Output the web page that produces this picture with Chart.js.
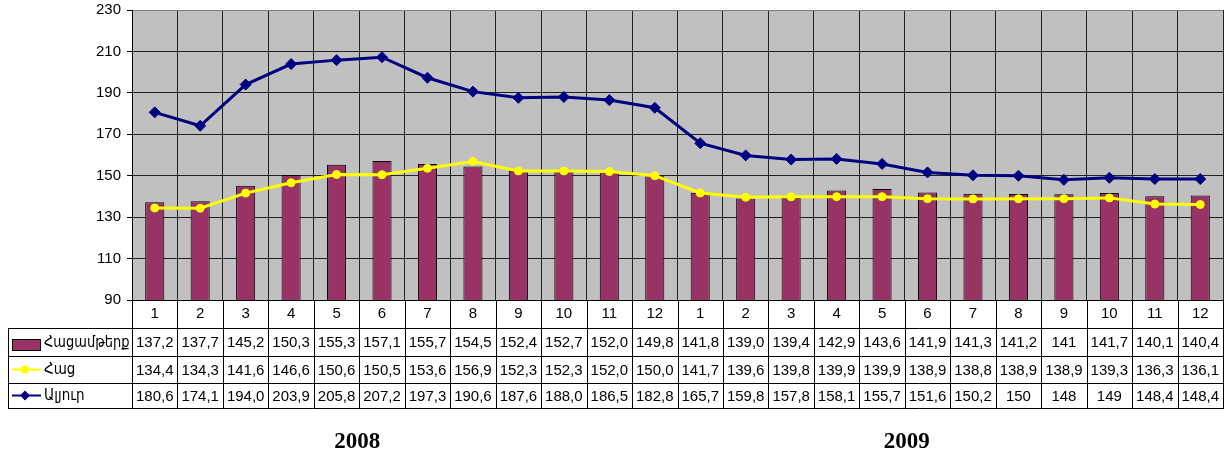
<!DOCTYPE html>
<html>
<head>
<meta charset="utf-8">
<script src="https://cdn.jsdelivr.net/npm/chart.js@4"></script>
<style>
    html, body { margin: 0; padding: 0; background: #fff; }
    canvas { display: block; }
</style>
</head>
<body>
<canvas id="myChart" width="1230" height="454"></canvas>
<script>
// 월 라벨 (2008, 2009)
const months = ['1','2','3','4','5','6','7','8','9','10','11','12',
                '1','2','3','4','5','6','7','8','9','10','11','12'];
const years = ['2008', '2009'];
const seriesNames = ['Հացամթերք', 'Հաց', 'Ալյուր'];

// 표에 찍힌 그대로의 값
const breadProducts = ['137,2','137,7','145,2','150,3','155,3','157,1','155,7','154,5','152,4','152,7','152,0','149,8',
                       '141,8','139,0','139,4','142,9','143,6','141,9','141,3','141,2','141','141,7','140,1','140,4'];
const bread = ['134,4','134,3','141,6','146,6','150,6','150,5','153,6','156,9','152,3','152,3','152,0','150,0',
               '141,7','139,6','139,8','139,9','139,9','138,9','138,8','138,9','138,9','139,3','136,3','136,1'];
const flour = ['180,6','174,1','194,0','203,9','205,8','207,2','197,3','190,6','187,6','188,0','186,5','182,8',
               '165,7','159,8','157,8','158,1','155,7','151,6','150,2','150','148','149','148,4','148,4'];

const yMin = 90, yMax = 230, yStep = 20;

const toNum = arr => arr.map(v => parseFloat(v.replace(',', '.')));

const FONT = '"Liberation Sans", Arial, "DejaVu Sans Condensed", sans-serif';
const ARM_FONT = '"DejaVu Sans Condensed", "DejaVu Sans", sans-serif';

// 표 행 위치
const rowY = [300, 328, 356, 383, 408];

const tablePlugin = {
    id: 'dataTable',
    beforeDraw(chart) {
        const { ctx, chartArea: a } = chart;
        ctx.save();
        ctx.fillStyle = '#c0c0c0';
        ctx.fillRect(a.left, a.top, a.right - a.left, a.bottom - a.top);
        ctx.restore();
    },
    afterDraw(chart) {
        const { ctx } = chart;
        const x = chart.scales.x;
        const half = (x.getPixelForValue(1) - x.getPixelForValue(0)) / 2;
        const bounds = [];
        for (let i = 0; i <= months.length; i++) {
            bounds.push(Math.round(x.getPixelForValue(0) - half + i * half * 2) + 0.5);
        }
        const left = 8.5;
        const right = bounds[bounds.length - 1];

        ctx.save();
        ctx.strokeStyle = '#000';
        ctx.lineWidth = 1;
        ctx.beginPath();
        for (let r = 1; r < rowY.length; r++) {
            ctx.moveTo(left, rowY[r] + 0.5);
            ctx.lineTo(right, rowY[r] + 0.5);
        }
        ctx.moveTo(left, rowY[1]);
        ctx.lineTo(left, rowY[4] + 1);
        bounds.forEach(b => {
            ctx.moveTo(b, rowY[0]);
            ctx.lineTo(b, rowY[4] + 1);
        });
        ctx.stroke();

        // 값
        ctx.fillStyle = '#000';
        ctx.font = '15px ' + FONT;
        ctx.textAlign = 'center';
        ctx.textBaseline = 'middle';
        [breadProducts, bread, flour].forEach((arr, r) => {
            const cy = (rowY[r + 1] + rowY[r + 2]) / 2 + 1;
            arr.forEach((v, i) => ctx.fillText(v, x.getPixelForValue(i), cy));
        });

        // 범례 키
        ctx.textAlign = 'left';
        ctx.font = '15px ' + ARM_FONT;
        seriesNames.forEach((name, r) => {
            const cy = (rowY[r + 1] + rowY[r + 2]) / 2;
            ctx.fillStyle = '#000';
            ctx.fillText(name, 44, cy + 1, bounds[0] - 47);
        });
        ctx.fillStyle = '#993366';
        ctx.fillRect(12, 339, 28, 11);
        ctx.strokeStyle = '#000';
        ctx.strokeRect(12.5, 339.5, 28, 11);

        let cy = (rowY[2] + rowY[3]) / 2;
        ctx.strokeStyle = '#ffff00';
        ctx.lineWidth = 2;
        ctx.beginPath(); ctx.moveTo(12, cy); ctx.lineTo(41, cy); ctx.stroke();
        ctx.fillStyle = '#ffff00';
        ctx.beginPath(); ctx.arc(25, cy, 4, 0, Math.PI * 2); ctx.fill();

        cy = (rowY[3] + rowY[4]) / 2;
        ctx.strokeStyle = '#000080';
        ctx.beginPath(); ctx.moveTo(12, cy); ctx.lineTo(41, cy); ctx.stroke();
        ctx.fillStyle = '#000080';
        ctx.beginPath();
        ctx.moveTo(25, cy - 5); ctx.lineTo(30, cy); ctx.lineTo(25, cy + 5); ctx.lineTo(20, cy);
        ctx.closePath(); ctx.fill();

        // 연도
        ctx.font = 'bold 23px "Liberation Serif", "Times New Roman", serif';
        ctx.textAlign = 'center';
        ctx.textBaseline = 'alphabetic';
        ctx.fillStyle = '#000';
        ctx.fillText(years[0], (x.getPixelForValue(4) + x.getPixelForValue(5)) / 2 - 2, 448);
        ctx.fillText(years[1], (x.getPixelForValue(16) + x.getPixelForValue(17)) / 2 + 2, 448);
        ctx.restore();
    }
};

let myChart = null;

function initChart() {
    const ctx = document.getElementById('myChart').getContext('2d');
    myChart = new Chart(ctx, {
        type: 'bar',
        data: {
            labels: months,
            datasets: [
                {
                    label: seriesNames[0],
                    data: toNum(breadProducts),
                    backgroundColor: '#993366',
                    borderColor: '#000',
                    borderWidth: 1,
                    barPercentage: 0.42,
                    categoryPercentage: 1,
                    order: 3
                },
                {
                    type: 'line',
                    label: seriesNames[1],
                    data: toNum(bread),
                    borderColor: '#ffff00',
                    backgroundColor: '#ffff00',
                    borderWidth: 3,
                    pointRadius: 4,
                    pointBackgroundColor: '#ffff00',
                    pointBorderColor: '#ffff00',
                    pointBorderWidth: 1,
                    tension: 0,
                    order: 2
                },
                {
                    type: 'line',
                    label: seriesNames[2],
                    data: toNum(flour),
                    borderColor: '#000080',
                    backgroundColor: '#000080',
                    borderWidth: 3,
                    pointStyle: 'rectRot',
                    pointRadius: 5.5,
                    pointBackgroundColor: '#000080',
                    pointBorderColor: '#000080',
                    pointBorderWidth: 1,
                    tension: 0,
                    order: 1
                }
            ]
        },
        options: {
            responsive: false,
            animation: false,
            layout: { padding: { top: 10, right: 7, left: 0, bottom: 0 } },
            scales: {
                x: {
                    offset: true,
                    grid: {
                        offset: true,
                        drawTicks: false,
                        color: ctx => ctx.index === months.length ? '#808080' : '#222',
                        lineWidth: 1
                    },
                    border: { color: '#000', width: 1 },
                    ticks: {
                        color: '#000',
                        font: { size: 15, family: FONT },
                        padding: 5,
                        maxRotation: 0,
                        autoSkip: false
                    },
                    afterFit: s => { s.height = 154; s.paddingLeft = 0; s.paddingRight = 0; }
                },
                y: {
                    min: yMin,
                    max: yMax,
                    grid: {
                        color: ctx => ctx.tick && ctx.tick.value === yMax ? '#808080' : '#222',
                        lineWidth: 1,
                        tickLength: 5,
                        tickColor: '#000'
                    },
                    border: { color: '#000', width: 1 },
                    ticks: {
                        stepSize: yStep,
                        color: '#000',
                        font: { size: 15, family: FONT },
                        padding: 6
                    },
                    afterFit: s => { s.width = 132; s.paddingTop = 0; s.paddingBottom = 0; }
                }
            },
            plugins: {
                legend: { display: false },
                tooltip: { enabled: false },
                title: { display: false }
            }
        },
        plugins: [tablePlugin]
    });
}

document.addEventListener('DOMContentLoaded', () => {
    initChart();
});
</script>
</body>
</html>
